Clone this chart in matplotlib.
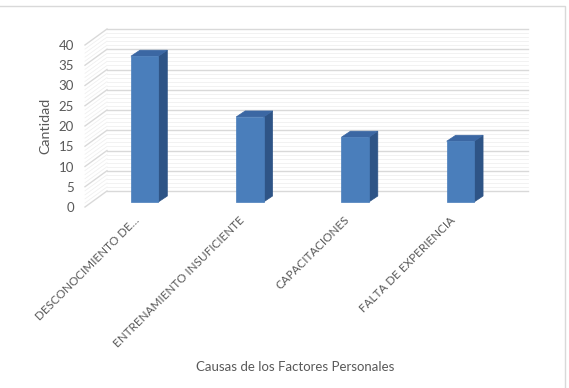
import matplotlib.pyplot as plt
from matplotlib.patches import Polygon, Rectangle
from matplotlib.transforms import offset_copy

# data
categorias = ['DESCONOCIMIENTO DE…', 'ENTRENAMIENTO INSUFICIENTE',
              'CAPACITACIONES', 'FALTA DE EXPERIENCIA']
cantidad = [36, 21, 16, 15]
y_ticks = [0, 5, 10, 15, 20, 25, 30, 35, 40]

plt.rcParams['font.family'] = ['Lato', 'DejaVu Sans']
gris_texto = '#595959'

W, H = 569, 388
fig = plt.figure(figsize=(W / 100, H / 100), dpi=100)
fig.patch.set_facecolor('white')

# outer chart frame (screenshot crop)
fig.add_artist(Rectangle((-0.01, -0.05), 565 / W + 0.01, (H - 6) / H + 0.05,
                         transform=fig.transFigure, fill=False,
                         edgecolor='#d9d9d9', linewidth=1))

# front plane of the 3D box
ax = fig.add_axes([85 / W, (H - 207) / H, 421 / W, 162 / H])
ax.set_xlim(-0.5, 3.5)
ax.set_ylim(0, 40)
for s in ax.spines.values():
    s.set_visible(False)

# depth offsets in pixels
back = offset_copy(ax.transData, fig=fig, x=22, y=16, units='dots')

def off_pts(x, y, dx, dy):
    # convert data point + pixel offset to data coordinates
    px, py = ax.transData.transform((x, y))
    return ax.transData.inverted().transform((px + dx, py + dy))

# grid on back wall and left side wall
for v in range(0, 41):
    major = v % 5 == 0
    col = '#d9d9d9' if major else '#f0f0f0'
    lw = 1.0 if major else 0.6
    ax.plot([-0.5, 3.5], [v, v], transform=back, color=col, lw=lw,
            clip_on=False, zorder=1)
    p0 = (-0.5, v)
    p1 = off_pts(-0.5, v, 22, 16)
    ax.plot([p0[0], p1[0]], [p0[1], p1[1]], color=col, lw=lw,
            clip_on=False, zorder=1)

# bars
bw = 0.26
front_off = (7, 5)
depth = (9, 6)
for i, v in enumerate(cantidad):
    x0, x1 = i - bw / 2, i + bw / 2
    fx0 = off_pts(x0, 0, *front_off)
    fx1 = off_pts(x1, v, *front_off)
    front = [(fx0[0], fx0[1]), (fx1[0], fx0[1]), (fx1[0], fx1[1]), (fx0[0], fx1[1])]
    dxp = front_off[0] + depth[0]
    dyp = front_off[1] + depth[1]
    b_br = off_pts(x1, 0, dxp, dyp)
    b_tr = off_pts(x1, v, dxp, dyp)
    b_tl = off_pts(x0, v, dxp, dyp)
    side = [front[1], b_br, b_tr, front[2]]
    top = [front[3], front[2], b_tr, b_tl]
    ax.add_patch(Polygon(side, closed=True, facecolor='#2e5486',
                         edgecolor='#2e5486', lw=0.5, clip_on=False, zorder=3))
    ax.add_patch(Polygon(top, closed=True, facecolor='#3b67a3',
                         edgecolor='#3b67a3', lw=0.5, clip_on=False, zorder=3))
    ax.add_patch(Polygon(front, closed=True, facecolor='#4a7ebb',
                         edgecolor='#4a7ebb', lw=0.5, clip_on=False, zorder=4))

ax.set_yticks(y_ticks)
ax.set_yticklabels([str(t) for t in y_ticks], fontsize=9.5)
ax.set_xticks(range(len(categorias)))
ax.set_xticklabels(categorias, rotation=45, ha='right', va='center',
                   rotation_mode='anchor', fontsize=8.4)
ax.tick_params(axis='both', length=0, colors=gris_texto)
ax.tick_params(axis='y', pad=8)
ax.tick_params(axis='x', pad=8)

fig.text(45 / W, 1 - 126 / H, 'Cantidad', rotation=90, ha='center',
         va='center', color=gris_texto, fontsize=10.3)
fig.text(295 / W, 1 - 367 / H, 'Causas de los Factores Personales',
         ha='center', va='center', color=gris_texto, fontsize=9.5)

fig.savefig('out.png', dpi=100, facecolor='white')
